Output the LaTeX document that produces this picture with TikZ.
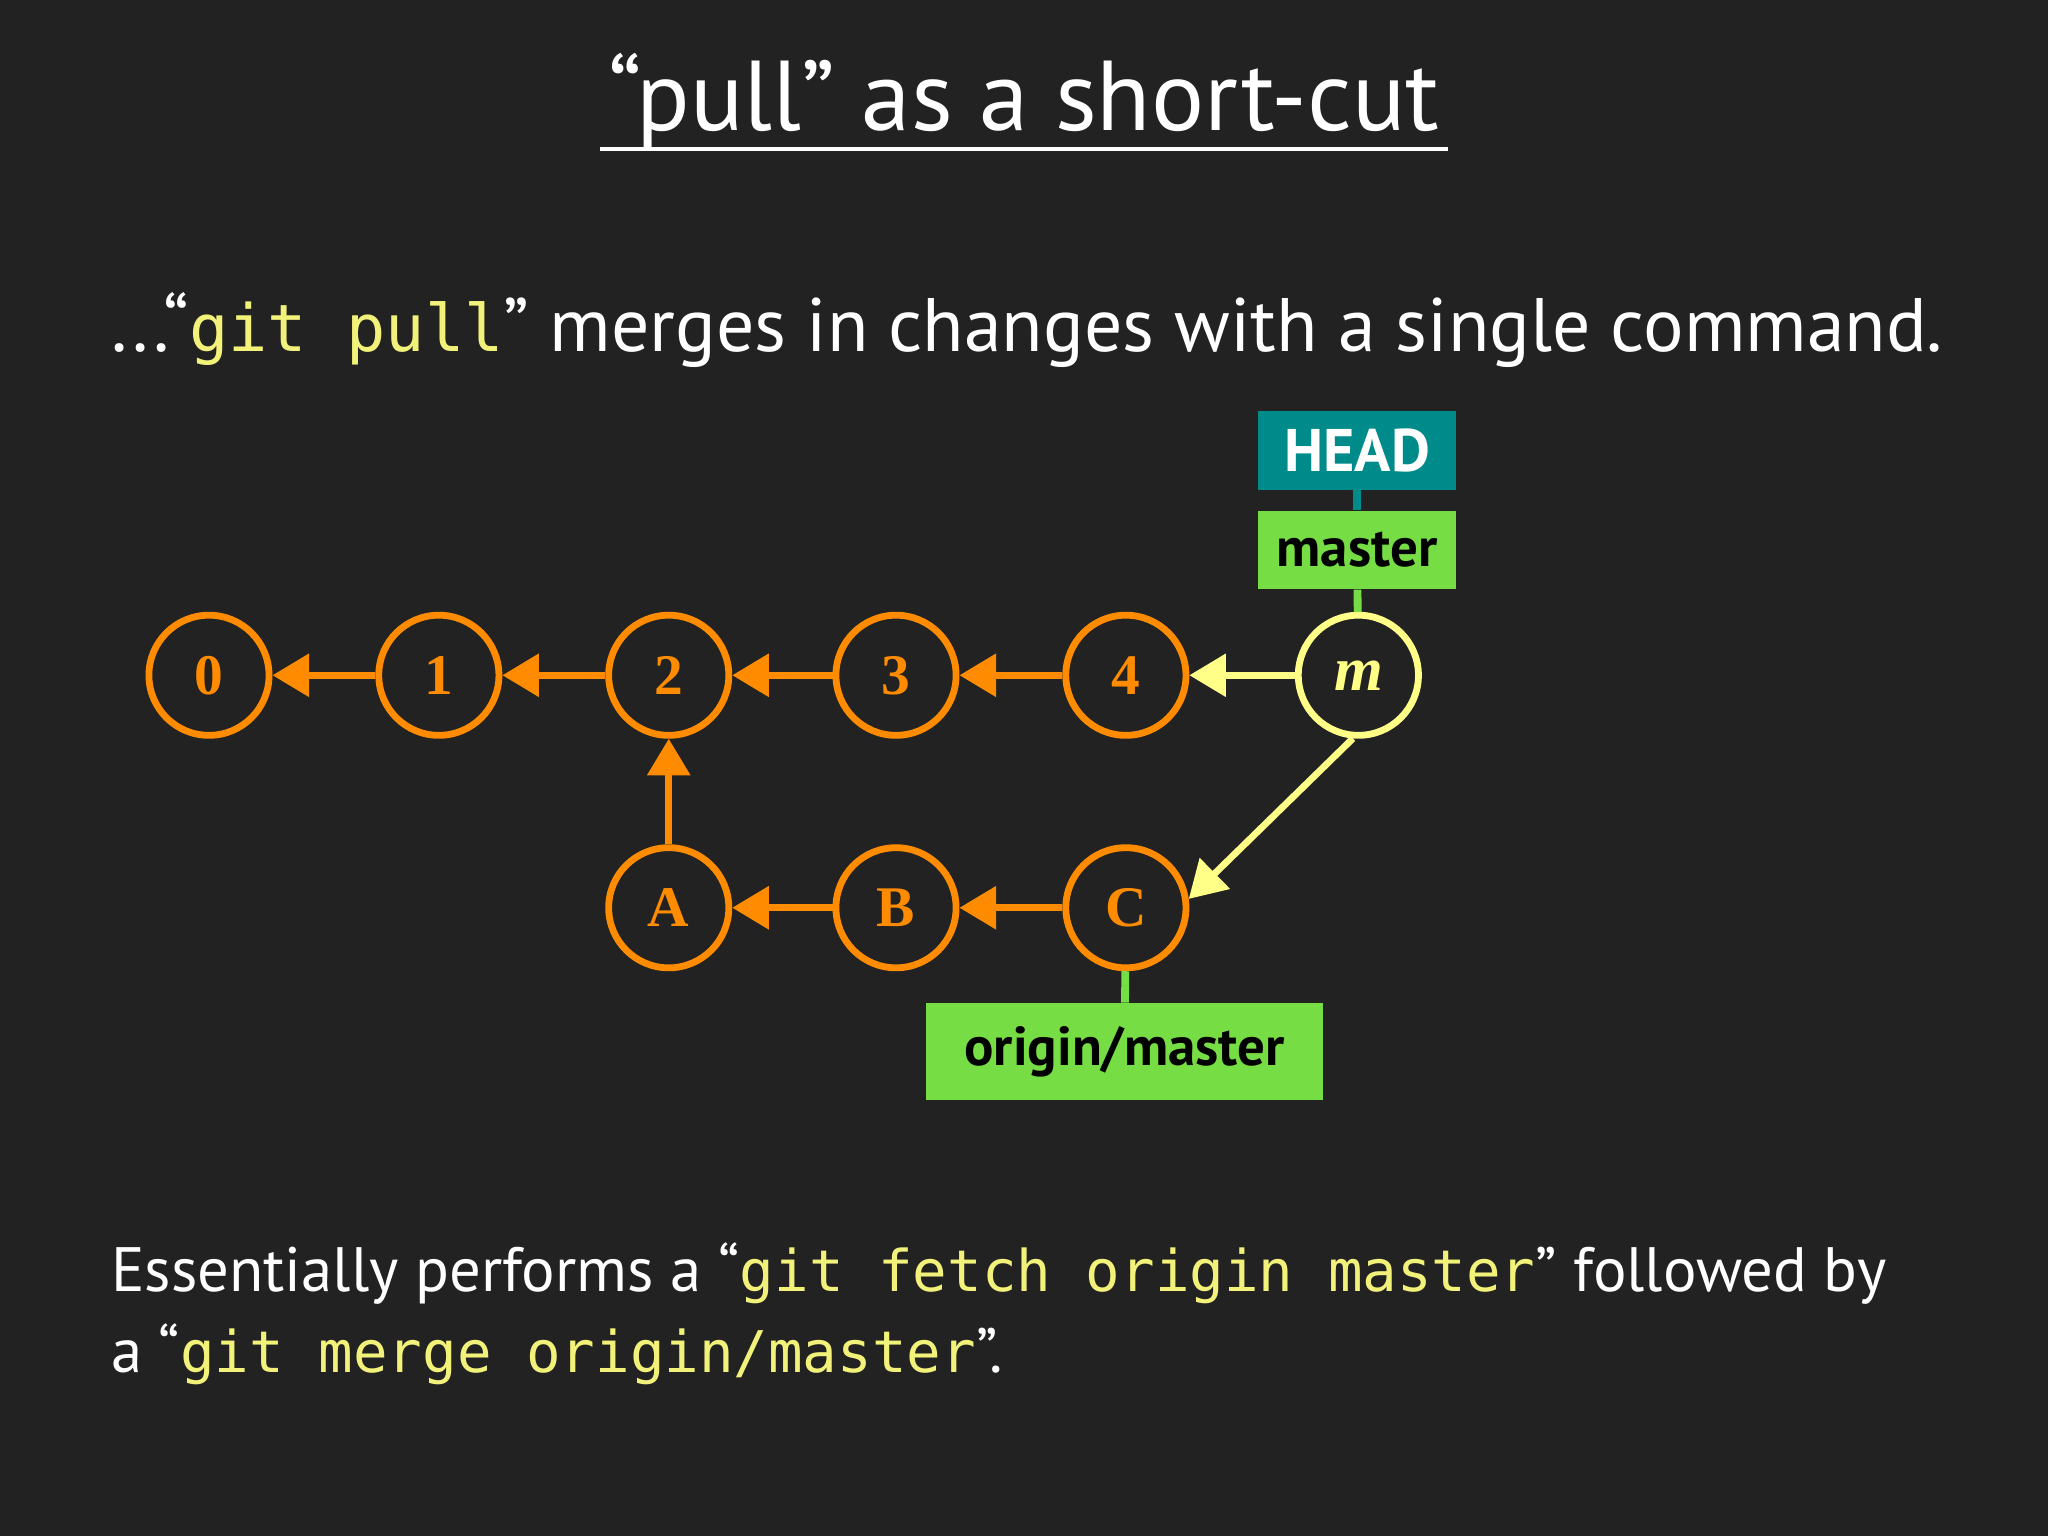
\documentclass[tikz,border=0pt]{standalone}
\usepackage{fontspec}
\setmainfont{PT Sans}
\newfontfamily\monof{DejaVu Sans Mono}
\newfontfamily\serifb{Liberation Serif}
\usetikzlibrary{arrows.meta}
\definecolor{bg}{HTML}{222222}
\definecolor{org}{HTML}{FF8C00}
\definecolor{yel}{HTML}{FFFF88}
\definecolor{cy}{HTML}{F2F27A}
\definecolor{teal}{HTML}{008B8B}
\definecolor{grn}{HTML}{77DD44}
\begin{document}
\begin{tikzpicture}[x=0.5pt,y=-0.5pt,
  commit/.style={circle,draw=org,line width=2.6pt,minimum size=46pt,inner sep=0pt,text=org,font=\serifb\fontsize{22}{22}\selectfont\bfseries},
  arr/.style={draw=org,line width=2.6pt,-{Triangle[length=14pt,width=16pt]}},
  lbl/.style={fill=grn,text=black,font=\fontsize{21}{21}\selectfont\bfseries,inner sep=0pt},
  code/.style={text=cy}]
\fill[bg] (0,0) rectangle (1568,1176);
\useasboundingbox (0,0) rectangle (1568,1176);
\node[text=white,font=\fontsize{38}{38}\selectfont] (title) at (784,78) {“pull” as a short-cut};
\draw[white,line width=1.6pt] ([yshift=4pt]title.south west) -- ([yshift=4pt]title.south east);
\node[text=white,font=\fontsize{29}{29}\selectfont,anchor=west] (line1) at (78,253) {...“{\monof\fontsize{25}{25}\selectfont\color{cy}git pull}” merges in changes with a single command.};
\node[text=white,font=\fontsize{24}{24}\selectfont,anchor=west] (line2) at (78,975) {Essentially performs a “{\monof\fontsize{22}{22}\selectfont\color{cy}git fetch origin master}” followed by};
\node[text=white,font=\fontsize{24}{24}\selectfont,anchor=west] (line3) at (78,1037) {a “{\monof\fontsize{22}{22}\selectfont\color{cy}git merge origin/master}”.};
\node[commit] (c0) at (160,517) {0};
\node[commit] (c1) at (336,517) {1};
\node[commit] (c2) at (512,517) {2};
\node[commit] (c3) at (686,517) {3};
\node[commit] (c4) at (862,517) {4};
\node[commit,draw=yel,text=yel,font=\serifb\fontsize{24}{24}\selectfont\bfseries\itshape] (m) at (1040,517) {m};
\node[commit] (cA) at (512,695) {A};
\node[commit] (cB) at (686,695) {B};
\node[commit] (cC) at (862,695) {C};
\node[lbl,fill=teal,text=white,minimum width=76pt,minimum height=30pt,font=\fontsize{23}{23}\selectfont\bfseries] (head) at (1039,345) {HEAD};
\node[lbl,minimum width=76pt,minimum height=30pt] (master) at (1039,421) {master};
\node[lbl,minimum width=152pt,minimum height=37pt] (om) at (861,805) {origin/master};
\draw[teal,line width=3pt] (head) -- (master);
\draw[grn,line width=3pt] (master) -- (m);
\draw[grn,line width=3pt] (cC) -- (om);
\draw[arr] (c1) -- (c0);
\draw[arr] (c2) -- (c1);
\draw[arr] (c3) -- (c2);
\draw[arr] (c4) -- (c3);
\draw[arr,draw=yel] (m) -- (c4);
\draw[arr,draw=yel] (m.-95) -- (cC.8);
\draw[arr] (cA) -- (c2);
\draw[arr] (cB) -- (cA);
\draw[arr] (cC) -- (cB);
\end{tikzpicture}
\end{document}
